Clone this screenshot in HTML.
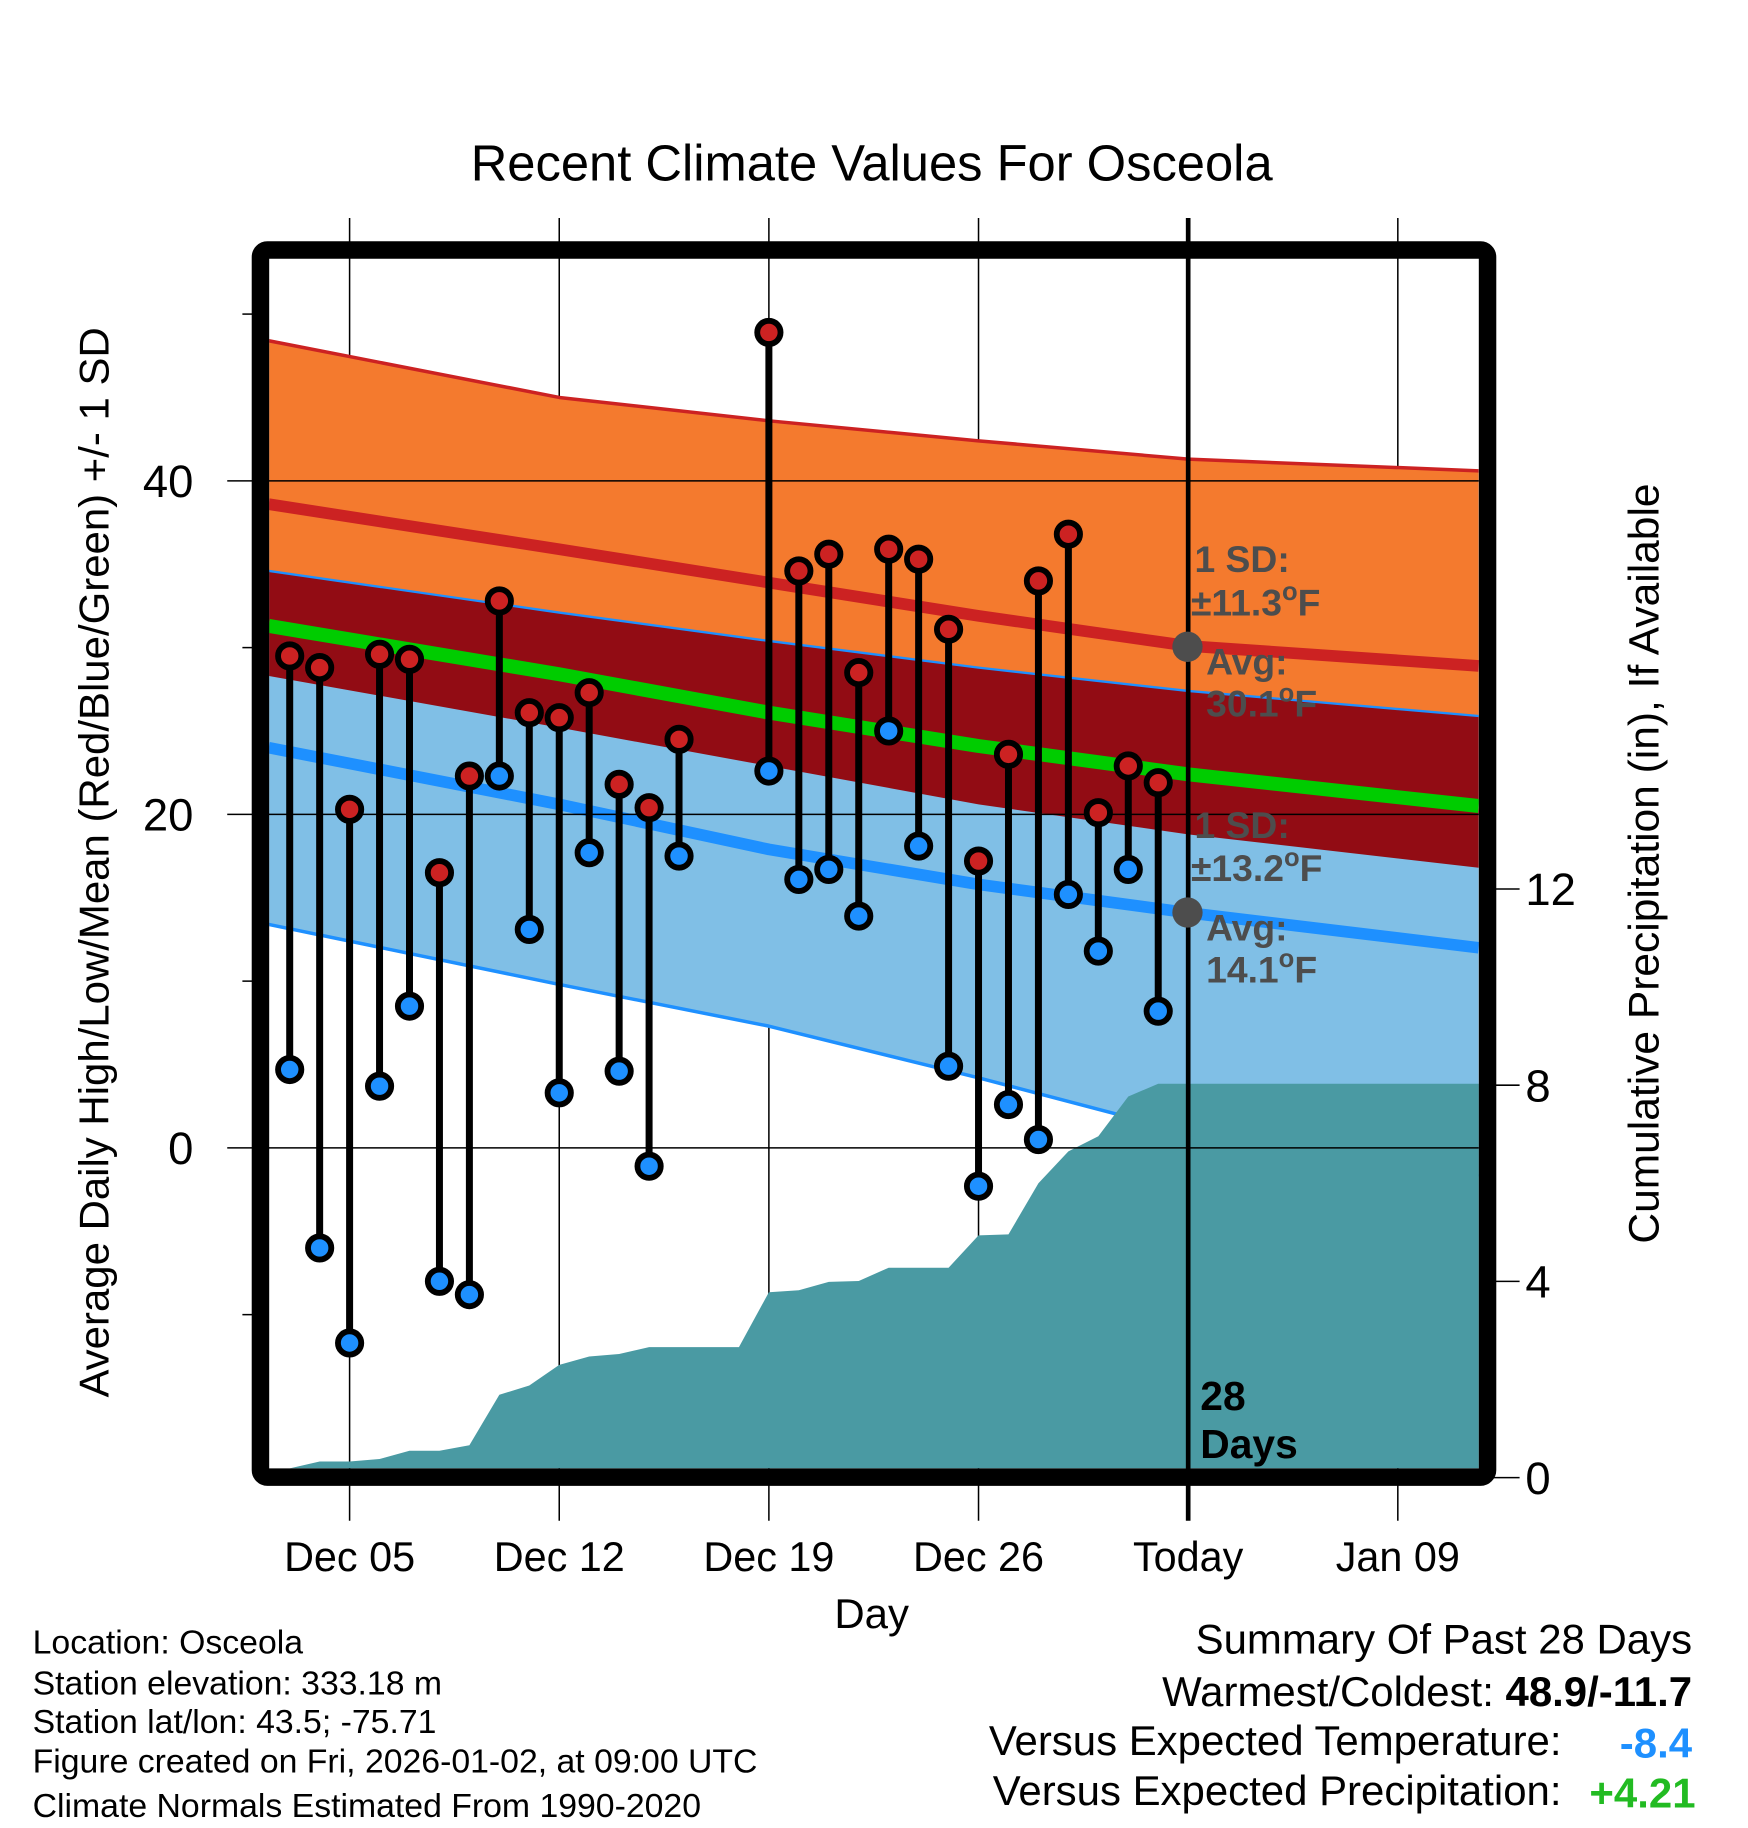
<!DOCTYPE html>
<html><head><meta charset="utf-8"><style>
html,body{margin:0;padding:0;background:#fff;}
svg{display:block;font-family:"Liberation Sans",Arial,sans-serif;}
</style></head><body>
<svg id="chart" width="1748" height="1828" viewBox="0 0 1500 1568.6" xmlns="http://www.w3.org/2000/svg">
<defs><clipPath id="plotclip"><rect x="231" y="222" width="1038" height="1038"/></clipPath></defs>
<rect width="1500" height="1568.6" fill="#fff"/>
<text x="748" y="155" font-size="43.5" text-anchor="middle">Recent Climate Values For Osceola</text>
<g id="grid"></g>
<g id="plot" clip-path="url(#plotclip)"></g>
<g id="marks"></g>
<rect x="223.5" y="214.5" width="1053" height="1053" rx="6" fill="none" stroke="#000" stroke-width="15"/>
<g id="axes"></g>
<g font-weight="bold" font-size="32" fill="#4d4d4d">
<text x="1025" y="491">1 SD:</text>
<text x="1022" y="528">±11.3<tspan font-size="22" dy="-13">o</tspan><tspan dy="13">F</tspan></text>
<circle cx="1019" cy="555" r="13" fill="#4d4d4d"/>
<text x="1035" y="579">Avg:</text>
<text x="1035" y="615">30.1<tspan font-size="22" dy="-13">o</tspan><tspan dy="13">F</tspan></text>
<text x="1025" y="719">1 SD:</text>
<text x="1022" y="756">±13.2<tspan font-size="22" dy="-13">o</tspan><tspan dy="13">F</tspan></text>
<circle cx="1019" cy="783" r="13" fill="#4d4d4d"/>
<text x="1035" y="807">Avg:</text>
<text x="1035" y="843">14.1<tspan font-size="22" dy="-13">o</tspan><tspan dy="13">F</tspan></text>
</g>
<text x="1030" y="1210" font-size="35" font-weight="bold">28</text>
<text x="1030" y="1251" font-size="35" font-weight="bold">Days</text>
<text transform="translate(93,740) rotate(-90)" font-size="36" text-anchor="middle">Average Daily High/Low/Mean (Red/Blue/Green) +/- 1 SD</text>
<text transform="translate(1423,741) rotate(-90)" font-size="36.5" text-anchor="middle">Cumulative Precipitation (in), If Available</text>
<text x="748" y="1397" font-size="36" text-anchor="middle">Day</text>
<g font-size="29">
<text x="28" y="1419">Location: Osceola</text>
<text x="28" y="1454">Station elevation: 333.18 m</text>
<text x="28" y="1487">Station lat/lon: 43.5; -75.71</text>
<text x="28" y="1521">Figure created on Fri, 2026-01-02, at 09:00 UTC</text>
<text x="28" y="1559">Climate Normals Estimated From 1990-2020</text>
</g>
<g font-size="36" text-anchor="end">
<text x="1452" y="1419">Summary Of Past 28 Days</text>
<text x="1452" y="1464">Warmest/Coldest: <tspan font-weight="bold">48.9/-11.7</tspan></text>
<text x="1340" y="1506">Versus Expected Temperature:</text>
<text x="1452" y="1508" font-weight="bold" fill="#1e90ff">-8.4</text>
<text x="1340" y="1549">Versus Expected Precipitation:</text>
<text x="1455" y="1551" font-weight="bold" fill="#22bb22">+4.21</text>
</g>
</svg>
<script>
// day = day of December (Jan 2 = 33)
const obsDays = [3,4,5,6,7,8,9,10,11,12,13,14,15,16,19,20,21,22,23,24,25,26,27,28,29,30,31,32];
const highs = [29.5,28.8,20.3,29.6,29.3,16.5,22.3,32.8,26.1,25.8,27.3,21.8,20.4,24.5,48.9,34.6,35.6,28.5,35.9,35.3,31.1,17.2,23.6,34.0,36.8,20.1,22.9,21.9];
const lows = [4.7,-6.0,-11.7,3.7,8.5,-8.0,-8.8,22.3,13.1,3.3,17.7,4.6,-1.1,17.5,22.6,16.1,16.7,13.9,25.0,18.1,4.9,-2.3,2.6,0.5,15.2,11.8,16.7,8.2];
const precipDays = [3,4,5,6,7,8,9,10,11,12,13,14,15,16,17,18,19,20,21,22,23,24,25,26,27,28,29,30,31,32,33];
const precipCum = [0,0.33,0.33,0.38,0.55,0.55,0.66,1.69,1.88,2.3,2.47,2.52,2.66,2.66,2.66,2.66,3.78,3.82,3.99,4.01,4.28,4.28,4.28,4.94,4.96,6.0,6.65,6.96,7.77,8.03,8.03];
const normDays = [2.3,12,19,26,33,42.7];
const highPlusSD = [48.4,45.0,43.6,42.4,41.3,40.6];
const highAvg = [38.6,35.9,33.9,31.9,30.1,28.9];
const lowPlusSD = [34.6,32.1,30.4,28.8,27.4,25.9];
const highMinusSD = [28.3,25.2,22.9,20.6,18.8,16.8];
const meanAvg = [31.3,28.4,26.1,24.1,22.4,20.5];
const lowAvg = [24.0,20.6,17.9,15.8,14.1,12.0];
const lowMinusSD = [13.4,9.8,7.3,4.2,0.9,-1.7];
const xTickDays = [5,12,19,26,33,40];
const xTickLabels = ["Dec 05","Dec 12","Dec 19","Dec 26","Today","Jan 09"];
const yTicks = [0,20,40];
const yMinor = [-10,10,30,50];
const y2Ticks = [0,4,8,12];

const NS="http://www.w3.org/2000/svg";
const X=d=>300+(d-5)*25.7;
const Y=t=>985-t*14.31;
const YP=p=>1268-p*42.1;
function mk(tag,attrs,parent){const e=document.createElementNS(NS,tag);for(const k in attrs)e.setAttribute(k,attrs[k]);parent.appendChild(e);return e;}
const plot=document.getElementById('plot'),grid=document.getElementById('grid'),marks=document.getElementById('marks'),axes=document.getElementById('axes');

function curve(vals){return normDays.map((d,i)=>[X(d),Y(vals[i])]);}
function band(top,bot,fill,name){const a=curve(top),b=curve(bot).reverse();const p=mk('path',{d:'M'+a.concat(b).map(q=>q.join(',')).join('L')+'Z',fill:fill},plot);}
function line(vals,color,w,name){const p=mk('path',{d:'M'+curve(vals).map(q=>q.join(',')).join('L'),fill:'none',stroke:color,'stroke-width':w,'stroke-linejoin':'round'},plot);}
band(highPlusSD,highMinusSD,'#f47a2e','high-sd-band');
band(lowPlusSD,lowMinusSD,'#80bfe6','low-sd-band');
band(lowPlusSD,highMinusSD,'#920c14','overlap-band');
line(highPlusSD,'#cc2222',3,'high-plus-sd-line');
line(lowPlusSD,'#1e90ff',2,'low-plus-sd-line');
line(lowMinusSD,'#1e90ff',3,'low-minus-sd-line');
line(highAvg,'#cc2222',10,'high-avg-line');
line(meanAvg,'#00cc00',12,'mean-avg-line');
line(lowAvg,'#1e90ff',10,'low-avg-line');
{let d='M'+X(precipDays[0])+','+1260;precipDays.forEach((dd,i)=>{d+='L'+X(dd)+','+Math.min(1260,YP(precipCum[i]));});d+='L1270,'+YP(precipCum[precipCum.length-1])+'L1270,1260Z';const p=mk('path',{d:d,fill:'#4a9aa3'},plot);}
xTickDays.forEach((d,i)=>{const l=mk('line',{x1:X(d),x2:X(d),y1:187,y2:1305,stroke:'#000','stroke-width':i===4?4:1.3},i===4?marks:grid);
 const t=mk('text',{x:X(d),y:1348,'font-size':35.5,'text-anchor':'middle'},axes);t.textContent=xTickLabels[i];});
yTicks.forEach(v=>{const l=mk('line',{x1:195,x2:1269,y1:Y(v),y2:Y(v),stroke:'#000','stroke-width':1.3},marks);
 const t=mk('text',{x:166,y:Y(v)+14,'font-size':39,'text-anchor':'end'},axes);t.textContent=v;});
yMinor.forEach(v=>{const l=mk('line',{x1:208,x2:218,y1:Y(v),y2:Y(v),stroke:'#000','stroke-width':1.3},axes);});
y2Ticks.forEach(v=>{const l=mk('line',{x1:1282,x2:1304,y1:YP(v),y2:YP(v),stroke:'#000','stroke-width':1.3},axes);
 const t=mk('text',{x:1309,y:YP(v)+14,'font-size':39},axes);t.textContent=v;});
obsDays.forEach((d,i)=>{const x=X(d);const s=mk('line',{x1:x,x2:x,y1:Y(highs[i]),y2:Y(lows[i]),stroke:'#000','stroke-width':6},marks);
 const h=mk('circle',{cx:x,cy:Y(highs[i]),r:10,fill:'#cc2222',stroke:'#000','stroke-width':5},marks);
 const lo=mk('circle',{cx:x,cy:Y(lows[i]),r:10,fill:'#1e90ff',stroke:'#000','stroke-width':5},marks);});
</script>
</body></html>
